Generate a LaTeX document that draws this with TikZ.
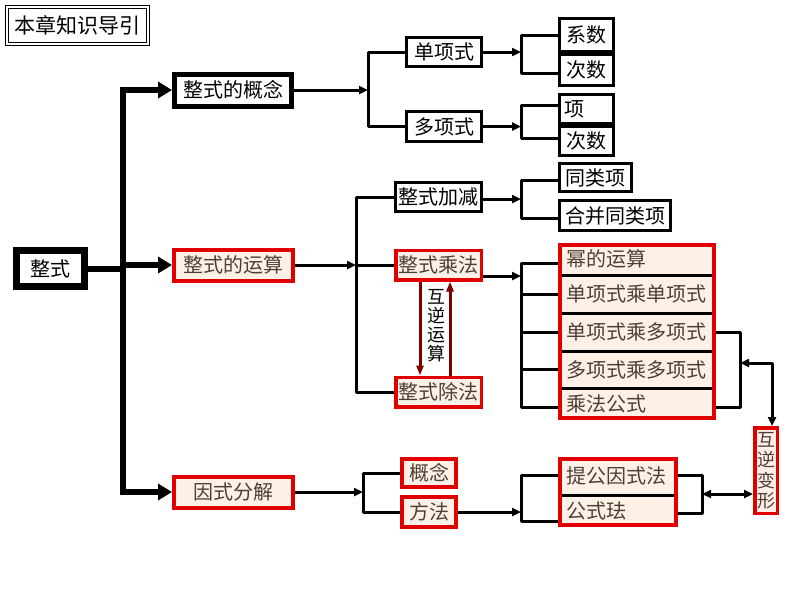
\documentclass[tikz,border=0pt]{standalone}
\usepackage{fontspec}
\newfontfamily\cjk{Noto Sans CJK SC}
\usetikzlibrary{arrows.meta,backgrounds}
\definecolor{redb}{HTML}{E00000}
\definecolor{peach}{HTML}{FDF0E6}
\definecolor{brtext}{HTML}{4D3F33}
\definecolor{darkred}{HTML}{800000}
\begin{document}
\begin{tikzpicture}[x=1pt,y=-1pt,
  every node/.style={font=\cjk\fontsize{20pt}{24pt}\selectfont, inner sep=0pt, anchor=center},
  titlebox/.style={draw=black, double=white, double distance=2.4pt, line width=1pt, fill=white,
     font=\cjk\fontsize{21pt}{24pt}\selectfont},
  bbox/.style={draw=black, line width=3pt, fill=white},
  rbox/.style={draw=redb, line width=3.5pt, fill=peach, text=brtext},
  rowtext/.style={anchor=west, text=brtext},
  conn/.style={line width=3pt, line join=round, draw=black},
  arr/.style={conn, -{Triangle[length=9pt,width=8pt]}},
  dblarr/.style={conn, {Triangle[length=9pt,width=8pt]}-{Triangle[length=9pt,width=8pt]}},
  trunkline/.style={line width=6pt, draw=black},
  trunkarr/.style={line width=6pt, draw=black, -{Triangle[length=14pt,width=16pt]}},
  revarr/.style={line width=3pt, draw=darkred, -{Triangle[length=10pt,width=7pt]}},
  divider/.style={line width=3pt, draw=black}
]
\useasboundingbox (0,0) rectangle (800,600);

% title
\node[titlebox, minimum width=141pt, minimum height=37pt] (title) at (77.5,25.5) {本章知识导引};

% level 0 / 1
\node[bbox, line width=7pt, minimum width=68pt, minimum height=36pt] (zs) at (50.5,268.5) {整式};
\node[bbox, line width=5pt, minimum width=117pt, minimum height=32pt] (gn) at (233,90) {整式的概念};
\node[rbox, line width=4pt, minimum width=119pt, minimum height=31pt] (ys) at (233.5,265) {整式的运算};
\node[rbox, line width=4pt, minimum width=119pt, minimum height=31pt] (yf) at (233.5,492) {因式分解};

% concept branch
\node[bbox, minimum width=75pt, minimum height=29pt] (dan) at (444,52) {单项式};
\node[bbox, minimum width=75pt, minimum height=30pt] (duo) at (444,126.5) {多项式};
\node[bbox, minimum width=54pt, minimum height=33pt] (xs) at (586.5,35) {系数};
\node[bbox, minimum width=54pt, minimum height=31pt] (cs1) at (586.5,70) {次数};
\node[bbox, minimum width=54pt, minimum height=29pt, text width=44pt, align=left] (xiang) at (586.5,109) {项};
\node[bbox, minimum width=54pt, minimum height=29pt] (cs2) at (586.5,141) {次数};

% operation branch
\node[bbox, minimum width=86pt, minimum height=29pt] (jj) at (438.5,197) {整式加减};
\node[rbox, minimum width=85.5pt, minimum height=29.5pt] (cf) at (438.5,265) {整式乘法};
\node[rbox, minimum width=85.5pt, minimum height=29.5pt] (cc) at (438.5,392) {整式除法};
\node[bbox, minimum width=72pt, minimum height=28pt] (tlx) at (595.5,177.5) {同类项};
\node[bbox, minimum width=111pt, minimum height=30pt] (hb) at (615,215.5) {合并同类项};

\node[rbox, line width=4pt, minimum width=154pt, minimum height=173pt] (grpA) at (637,331.5) {};
\draw[divider] (562,275) -- (712,275);
\draw[divider] (562,313) -- (712,313);
\draw[divider] (562,351) -- (712,351);
\draw[divider] (562,388) -- (712,388);
\node[rowtext] (r1) at (566,259) {幂的运算};
\node[rowtext] (r2) at (566,294) {单项式乘单项式};
\node[rowtext] (r3) at (566,332) {单项式乘多项式};
\node[rowtext] (r4) at (566,369.5) {多项式乘多项式};
\node[rowtext] (r5) at (566,404) {乘法公式};

\node[font=\cjk\fontsize{18pt}{19pt}\selectfont, align=center] (hnys) at (436,326) {互\\逆\\运\\算};

\node[rbox, minimum width=22.5pt, minimum height=85.5pt, align=center,
      font=\cjk\fontsize{18pt}{20.5pt}\selectfont] (bx) at (766,470.5) {互\\逆\\变\\形};

% factor branch
\node[rbox, line width=4pt, minimum width=54pt, minimum height=28pt] (gainian) at (429,473) {概念};
\node[rbox, line width=4pt, minimum width=54pt, minimum height=30pt] (fangfa) at (429,512) {方法};
\node[rbox, line width=4pt, minimum width=116pt, minimum height=66pt] (grpB) at (618,492) {};
\draw[divider] (562,495) -- (674,495);
\node[rowtext] (s1) at (566,476) {提公因式法};
\node[rowtext] (s2) at (566,511) {公式珐};

% connectors
\begin{scope}[on background layer]
  \coordinate (t1) at (123,90);
  \coordinate (t2) at (123,265);
  \coordinate (t3) at (123,492);
  \draw[trunkline, line cap=rect] (t1) -- (t3);
  \draw[trunkline] (zs.east) -- (zs.east -| t2);
  \draw[trunkarr] (t1) -- (gn.west);
  \draw[trunkarr] (t2) -- (ys.west);
  \draw[trunkarr] (t3) -- (yf.west);

  \coordinate (b1) at (368,90);
  \draw[arr] (gn.east) -- (b1);
  \draw[conn] (dan.west) -| (b1) |- (duo.west);

  \coordinate (b2) at (521,52);
  \draw[arr] (dan.east) -- (b2);
  \draw[conn] (xs.west |- 0,35) -| (b2) |- (cs1.west |- 0,73);

  \coordinate (b3) at (521,126.5);
  \draw[arr] (duo.east) -- (b3);
  \draw[conn] (xiang.west |- 0,105) -| (b3) |- (cs2.west |- 0,138);

  \coordinate (b4) at (356,265);
  \draw[arr] (ys.east) -- (b4);
  \draw[conn] (jj.west) -| (b4) |- (cc.west);
  \draw[conn] (b4) -- (cf.west);

  \coordinate (b5) at (521,199);
  \draw[arr] (jj.east |- b5) -- (b5);
  \draw[conn] (tlx.west |- 0,180) -| (b5) |- (hb.west |- 0,218);

  \coordinate (b6) at (521,276);
  \draw[arr] (cf.east |- b6) -- (b6);
  \draw[conn] (grpA.west |- 0,263) -| (b6) |- (grpA.west |- 0,407);
  \foreach \yy in {294,332,369} {\draw[conn] (b6 |- 0,\yy) -- (grpA.west |- 0,\yy);}

  \coordinate (rA) at (740,363);
  \draw[conn] (grpA.east |- 0,332) -| (rA) |- (grpA.east |- 0,407);
  \draw[dblarr] (rA) -- (772,363) -- (bx.north -| 772,0);

  \coordinate (b7) at (363,492);
  \draw[arr] (yf.east) -- (b7);
  \draw[conn] (gainian.west) -| (b7) |- (fangfa.west);

  \coordinate (b8) at (521,512);
  \draw[arr] (fangfa.east) -- (b8);
  \draw[conn] (grpB.west |- 0,475) -| (b8) |- (grpB.west |- 0,521);

  \coordinate (rB) at (702,494);
  \draw[conn] (grpB.east |- 0,475) -| (rB) |- (grpB.east |- 0,513);
  \draw[dblarr] (rB) -- (bx.west |- rB);
\end{scope}

\draw[revarr] (cf.south -| 420,0) -- (cc.north -| 420,0);
\draw[revarr] (cc.north -| 450,0) -- (cf.south -| 450,0);
\end{tikzpicture}
\end{document}
